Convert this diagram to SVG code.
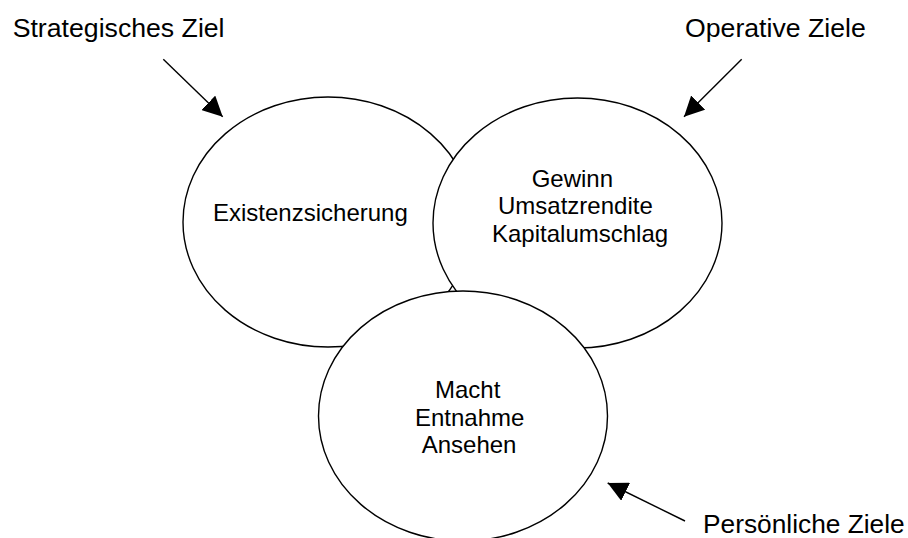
<svg xmlns="http://www.w3.org/2000/svg" width="908" height="538" viewBox="0 0 908 538">
<style>
.shape{fill:#ffffff;stroke:#000000;stroke-width:1.4}
.t{font-family:"Liberation Sans",Arial,sans-serif;font-size:24px;fill:#000000}
.lbl{font-family:"Liberation Sans",Arial,sans-serif;font-size:26.67px;fill:#000000}
.conn{stroke:#000000;stroke-width:1.4;fill:none}
</style>
<defs>
<marker id="ah" viewBox="0 0 20 20" refX="20" refY="10" markerWidth="20" markerHeight="20" markerUnits="userSpaceOnUse" orient="auto">
<path d="M0,0 L20,10 L0,20 z" fill="#000000"/>
</marker>
</defs>
<rect x="0" y="0" width="908" height="538" fill="#ffffff"/>
<g id="node-strategisch">
<ellipse class="shape" cx="328" cy="222" rx="145" ry="125"/>
<text class="t" x="213" y="221">Existenzsicherung</text>
</g>
<g id="node-operativ">
<ellipse class="shape" cx="577.5" cy="223" rx="144.5" ry="125"/>
<text class="t" x="531.7" y="187">Gewinn</text>
<text class="t" x="498" y="214">Umsatzrendite</text>
<text class="t" x="492" y="241.5">Kapitalumschlag</text>
</g>
<g id="node-persoenlich">
<ellipse class="shape" cx="463" cy="416" rx="144.5" ry="125"/>
<text class="t" x="435" y="398">Macht</text>
<text class="t" x="415" y="426">Entnahme</text>
<text class="t" x="421.7" y="453">Ansehen</text>
</g>
<g id="label-strategisch">
<text class="lbl" x="12.7" y="36.5">Strategisches Ziel</text>
</g>
<g id="label-operativ">
<text class="lbl" x="685" y="37">Operative Ziele</text>
</g>
<g id="label-persoenlich">
<text class="lbl" x="703" y="533" style="font-size:26.3px">Persönliche Ziele</text>
</g>
<g id="connectors">
<line class="conn" x1="163.3" y1="59.3" x2="222.7" y2="116.7" marker-end="url(#ah)"/>
<line class="conn" x1="741.7" y1="59.3" x2="684" y2="116.7" marker-end="url(#ah)"/>
<line class="conn" x1="685" y1="521" x2="607.7" y2="483" marker-end="url(#ah)"/>
</g>
</svg>
